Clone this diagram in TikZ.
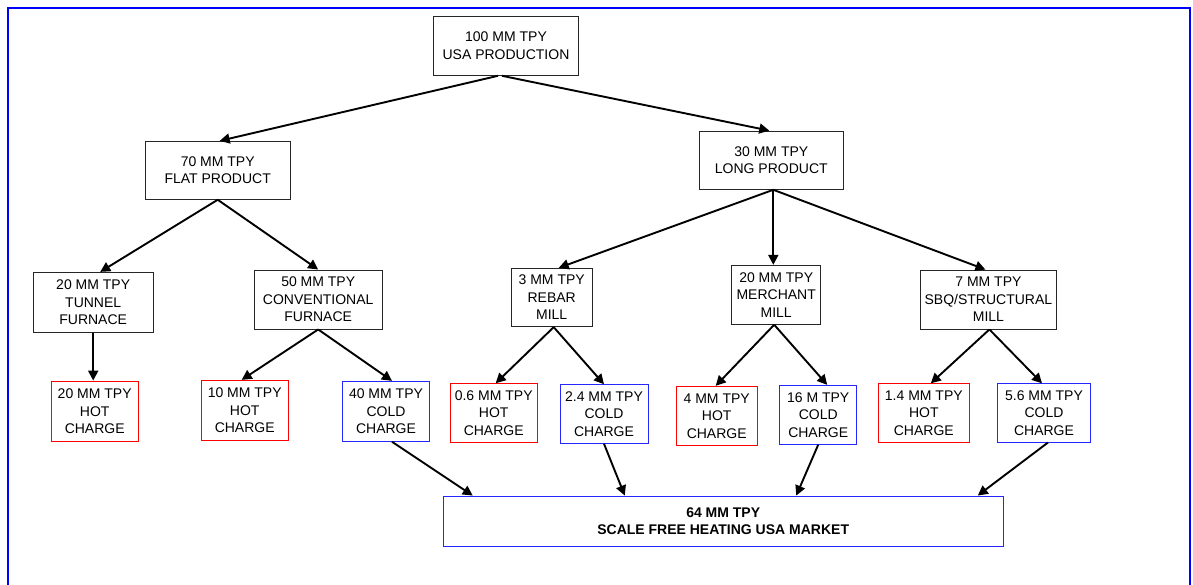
\documentclass[tikz,border=0pt]{standalone}
\usepackage{fontspec}
\setmainfont{Liberation Sans}
\usetikzlibrary{arrows.meta}
\begin{document}
\begin{tikzpicture}[x=1pt,y=-1pt,
  every node/.style={font=\fontsize{14}{17.5}\selectfont, align=center, inner sep=0pt},
  box/.style={draw=black!85, line width=0.9pt},
  hotbox/.style={draw=red, line width=0.9pt},
  coldbox/.style={draw=blue!85!white, line width=0.9pt},
  arr/.style={line width=1.9pt, -{Triangle[length=10pt,width=10pt]}}]
\useasboundingbox (0,0) rectangle (1193,584);
% outer frame
\draw[blue, line width=1.8pt] (7.7,600) -- (7.7,7.7) -- (1190,7.7) -- (1190,600);

% production levels
\node[box, minimum width=144.7pt, minimum height=59.3pt] (top) at (506,45.7) {100 MM TPY\\USA PRODUCTION};
\node[box, minimum width=144.6pt, minimum height=58pt] (flat) at (217.7,170.3) {70 MM TPY\\FLAT PRODUCT};
\node[box, minimum width=144.6pt, minimum height=58.3pt] (long) at (771.3,160.2) {30 MM TPY\\LONG PRODUCT};

% mills and furnaces
\node[box, minimum width=120.5pt, minimum height=59.7pt] (tunnel) at (93.2,302.2) {20 MM TPY\\TUNNEL\\FURNACE};
\node[box, minimum width=127.5pt, minimum height=59pt] (conv) at (318.2,299.5) {50 MM TPY\\CONVENTIONAL\\FURNACE};
\node[box, minimum width=81.4pt, minimum height=58.4pt] (rebar) at (551.7,297.5) {3 MM TPY\\REBAR\\MILL};
\node[box, minimum width=89.3pt, minimum height=59pt] (merchant) at (776.2,294.8) {20 MM TPY\\MERCHANT\\MILL};
\node[box, minimum width=136.2pt, minimum height=59pt] (sbq) at (988.4,299.5) {7 MM TPY\\SBQ/STRUCTURAL\\MILL};

% hot and cold charge
\node[hotbox, minimum width=86.9pt, minimum height=60.3pt] (hot1) at (94.7,411.2) {20 MM TPY\\HOT\\CHARGE};
\node[hotbox, minimum width=86.9pt, minimum height=60pt] (hot2) at (244.7,410.3) {10 MM TPY\\HOT\\CHARGE};
\node[coldbox, minimum width=87.7pt, minimum height=60pt] (cold1) at (386,411.3) {40 MM TPY\\COLD\\CHARGE};
\node[hotbox, minimum width=87.3pt, minimum height=58.6pt] (hot3) at (493.7,413) {0.6 MM TPY\\HOT\\CHARGE};
\node[coldbox, minimum width=88pt, minimum height=58.6pt] (cold2) at (604,414) {2.4 MM TPY\\COLD\\CHARGE};
\node[hotbox, minimum width=80.6pt, minimum height=59pt] (hot4) at (716.7,415.8) {4 MM TPY\\HOT\\CHARGE};
\node[coldbox, minimum width=77.2pt, minimum height=59pt] (cold3) at (818.2,414.8) {16 M TPY\\COLD\\CHARGE};
\node[hotbox, minimum width=90.7pt, minimum height=58.3pt] (hot5) at (923.8,412.9) {1.4 MM TPY\\HOT\\CHARGE};
\node[coldbox, minimum width=92.3pt, minimum height=58.3pt] (cold4) at (1044,412.9) {5.6 MM TPY\\COLD\\CHARGE};

% market
\node[coldbox, minimum width=560pt, minimum height=50pt, font=\fontsize{14}{17.5}\selectfont\bfseries] (market) at (723.2,521) {64 MM TPY\\SCALE FREE HEATING USA MARKET};

% connectors
\draw[arr] ([xshift=-8pt]top.south) -- ([xshift=2pt]flat.north);
\draw[arr] ([xshift=-4pt]top.south) -- ([xshift=-2pt]long.north);

\draw[arr] (flat.south) -- ([xshift=7pt]tunnel.north);
\draw[arr] (flat.south) -- (conv.north);

\draw[arr] ([xshift=2pt]long.south) -- ([xshift=7pt]rebar.north);
\draw[arr] ([xshift=2pt]long.south) -- ([xshift=2pt]long.south |- merchant.north);
\draw[arr] ([xshift=2pt]long.south) -- ([xshift=-3pt]sbq.north);

\draw[arr] (tunnel.south) -- (tunnel.south |- hot1.north);
\draw[arr] (conv.south) -- ([xshift=-3pt]hot2.north);
\draw[arr] (conv.south) -- ([xshift=6pt]cold1.north);
\draw[arr] ([xshift=2pt]rebar.south) -- ([xshift=2pt]hot3.north);
\draw[arr] ([xshift=2pt]rebar.south) -- (cold2.north);
\draw[arr] ([xshift=-2pt]merchant.south) -- ([xshift=-1pt]hot4.north);
\draw[arr] ([xshift=-2pt]merchant.south) -- ([xshift=9pt]cold3.north);
\draw[arr] ([xshift=1pt]sbq.south) -- ([xshift=7pt]hot5.north);
\draw[arr] ([xshift=1pt]sbq.south) -- ([xshift=-2pt]cold4.north);

\draw[arr] ([xshift=6pt]cold1.south) -- ([xshift=30pt]market.north west);
\draw[arr] (cold2.south) -- ([xshift=182pt]market.north west);
\draw[arr] (cold3.south) -- ([xshift=353.5pt]market.north west);
\draw[arr] ([xshift=4pt]cold4.south) -- ([xshift=535pt]market.north west);
\end{tikzpicture}
\end{document}
